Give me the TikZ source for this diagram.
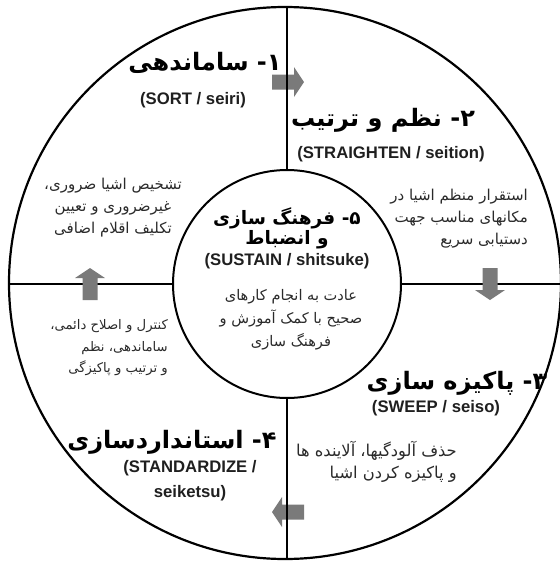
\documentclass[tikz,border=0pt]{standalone}
\usepackage{fontspec}
\setmainfont{Liberation Sans}
\newfontfamily\arabicfont[Script=Arabic]{DejaVu Sans}
\TeXXeTstate=1
\definecolor{arrowgray}{HTML}{7A7A7A}
\definecolor{desctext}{HTML}{2A2A2A}
\tikzset{
  ring/.style={draw=black, line width=2.2pt, circle, inner sep=0pt, outer sep=0pt},
  crossline/.style={draw=black, line width=2pt},
  heading/.style={font=\arabicfont\bfseries\fontsize{24}{28}\selectfont, inner sep=0pt},
  centerheading/.style={font=\arabicfont\bfseries\fontsize{18.5}{22}\selectfont, inner sep=0pt},
  latin/.style={font=\bfseries\fontsize{16.7}{25}\selectfont, inner sep=0pt, text=black!88},
  desc/.style={font=\arabicfont\fontsize{15}{22}\selectfont, text=desctext, inner sep=0pt},
  blockarrow/.pic={\fill[arrowgray] (-16,-7.5) -- (6,-7.5) -- (6,-15) -- (16,0) -- (6,15) -- (6,7.5) -- (-16,7.5) -- cycle;}
}
\begin{document}
\begin{tikzpicture}[x=1pt, y=-1pt]
\useasboundingbox (0,0) rectangle (560,563);
% circles
\node[ring, minimum size=552pt] (outer) at (285,283) {};
\node[ring, minimum size=228pt, line width=2pt] (inner) at (287,284) {};
% horizontal dividers
\draw[crossline] (inner.west) -- (inner.west -| outer.west);
\draw[crossline] (inner.east) -- (inner.east -| outer.east);
% arrows
\pic (arTop) at (288,82) {blockarrow};
\pic[rotate=-90] (arRight) at (490,284) {blockarrow};
\pic[rotate=180] (arBottom) at (288,512) {blockarrow};
\pic[rotate=90] (arLeft) at (90,284) {blockarrow};
% vertical dividers
\draw[crossline] (inner.north) -- (inner.north |- outer.north);
\draw[crossline] (inner.south) -- (inner.south |- outer.south);
% 1
\node[heading] (h1) at (205,63) {\beginR ۱- ساماندهی\endR};
\node[latin] (e1) at (193,100) {(SORT / seiri)};
\node[desc, align=center] (d1) at (113,208) {\beginR تشخیص اشیا ضروری،\endR\\\beginR غیرضروری و تعیین\endR\\\beginR تکلیف اقلام اضافی\endR};
% 2
\node[heading] (h2) at (383,120) {\beginR ۲- نظم و ترتیب\endR};
\node[latin] (e2) at (391,154) {(STRAIGHTEN / seition)};
\node[desc, align=right, anchor=east] (d2) at (528,219) {\beginR استقرار منظم اشیا در\endR\\\beginR مکانهای مناسب جهت\endR\\\beginR دستیابی سریع\endR};
% 5 centre
\node[centerheading] (h5a) at (287,218) {\beginR ۵- فرهنگ سازی\endR};
\node[centerheading] (h5b) at (287,240) {\beginR و انضباط\endR};
\node[latin] (e5) at (287,261) {(SUSTAIN / shitsuke)};
\node[desc, align=center, font=\arabicfont\fontsize{14.6}{23}\selectfont] (d5) at (291,320) {\beginR عادت به انجام کارهای\endR\\\beginR صحیح با کمک آموزش و\endR\\\beginR فرهنگ سازی\endR};
% 3
\node[heading] (h3) at (457,383) {\beginR ۳- پاکیزه سازی\endR};
\node[latin] (e3) at (436,408) {(SWEEP / seiso)};
\node[desc, align=right, anchor=east, font=\arabicfont\fontsize{16.3}{22}\selectfont] (d3) at (457,462) {\beginR حذف آلودگیها، آلاینده ها\endR\\\beginR و پاکیزه کردن اشیا\endR};
% 4
\node[desc, align=right, anchor=east, font=\arabicfont\fontsize{13.2}{21.5}\selectfont] (d4) at (168,348) {\beginR کنترل و اصلاح دائمی،\endR\\\beginR ساماندهی، نظم\endR\\\beginR و ترتیب و پاکیزگی\endR};
\node[heading] (h4) at (172,442) {\beginR ۴- استانداردسازی\endR};
\node[latin, align=center] (e4) at (190,481) {(STANDARDIZE /\\seiketsu)};
\end{tikzpicture}
\end{document}
